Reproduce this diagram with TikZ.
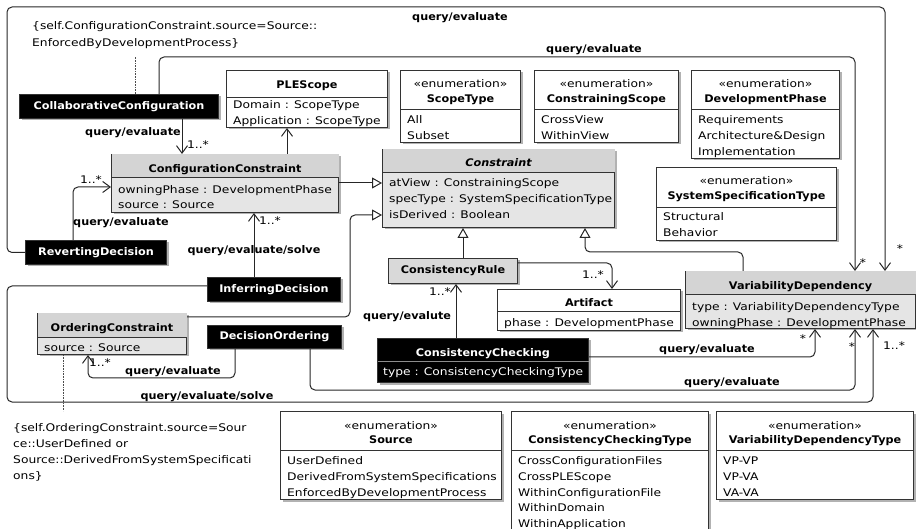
\documentclass[tikz,border=0pt]{standalone}
\usepackage{fontspec}
\setmainfont{DejaVu Sans}[FakeStretch=1.17]
\newfontfamily\headfont{DejaVu Sans}[FakeStretch=1.07]
\usetikzlibrary{arrows.meta,positioning,calc,shadows}

\newcommand{\umltext}{\fontsize{10.5}{12}\selectfont}
\newcommand{\umlhead}{\headfont\bfseries\fontsize{10.5}{12}\selectfont}

\begin{document}
\begin{tikzpicture}[x=1pt, y=-1pt,
  umlbox/.style={draw=black!80, line width=1pt, inner sep=0pt, anchor=north west,
    drop shadow={shadow xshift=2pt, shadow yshift=-2pt, fill=black, opacity=0.3}},
  greybox/.style={umlbox, fill=black!10},
  whitebox/.style={umlbox, fill=white},
  blackbox/.style={umlbox, fill=black, text=white, font=\umlhead},
  hdrgrey/.style={fill=black!17},
  sepline/.style={draw=black!80, line width=1pt},
  hdr/.style={anchor=base, inner sep=0pt, font=\umlhead},
  stereo/.style={anchor=base, inner sep=0pt, font=\umltext},
  attr/.style={anchor=base west, inner sep=0pt, font=\umltext},
  lbl/.style={inner sep=0pt, font=\umlhead},
  mult/.style={inner sep=0pt, font=\umltext},
  assoc/.style={draw=black!85, line width=1pt, rounded corners=5pt,
    -{Straight Barb[length=7.5pt,width=11pt]}},
  gen/.style={draw=black!85, line width=1pt, rounded corners=5pt,
    -{Triangle[length=10pt,width=11pt,fill=white]}},
  notelink/.style={draw=black!70, line width=0.6pt, densely dotted},
  note/.style={anchor=base west, inner sep=0pt, font=\umltext}]

\path[use as bounding box] (0,0) rectangle (916,529);
\clip (0,0) rectangle (916,529);

% ---------------- decisions (black)
\node[blackbox, minimum width=199pt, minimum height=24pt] (collab) at (19,94) {CollaborativeConfiguration};
\node[blackbox, minimum width=141pt, minimum height=24pt] (reverting) at (25,240) {RevertingDecision};
\node[blackbox, minimum width=133pt, minimum height=24pt] (inferring) at (207,277) {InferringDecision};
\node[blackbox, minimum width=134pt, minimum height=23pt] (decord) at (207,325) {DecisionOrdering};

\node[blackbox, minimum width=211pt, minimum height=44pt] (conscheck) at (377,338) {};
\draw[draw=black!45, line width=1pt] ($(conscheck.north west)+(0.5,24)$) -- ($(conscheck.north east)+(-0.5,24)$);
\node[hdr, text=white] (conscheck-n) at ($(conscheck.north)+(0,18)$) {ConsistencyChecking};
\node[attr, text=white] (conscheck-1) at ($(conscheck.north west)+(6,38)$) {type : ConsistencyCheckingType};

% ---------------- constraints (grey)
\node[greybox, minimum width=227pt, minimum height=58pt] (confcons) at (111,154) {};
\fill[hdrgrey] ($(confcons.north west)+(0.5,0.5)$) rectangle ($(confcons.north east)+(-0.5,24)$);
\draw[sepline] ($(confcons.north west)+(0,24)$) -- ($(confcons.north east)+(0,24)$);
\node[hdr] (confcons-n) at ($(confcons.north)+(0,18.5)$) {ConfigurationConstraint};
\node[attr] (confcons-1) at ($(confcons.north west)+(7,39.5)$) {owningPhase : DevelopmentPhase};
\node[attr] (confcons-2) at ($(confcons.north west)+(7,55)$) {source : Source};

\node[greybox, minimum width=232pt, minimum height=78pt] (constraint) at (382,149) {};
\fill[hdrgrey] ($(constraint.north west)+(0.5,0.5)$) rectangle ($(constraint.north east)+(-0.5,24)$);
\draw[sepline] ($(constraint.north west)+(0,24)$) -- ($(constraint.north east)+(0,24)$);
\node[hdr, font=\umlhead\itshape] (constraint-n) at ($(constraint.north)+(0,18)$) {Constraint};
\node[attr] (constraint-1) at ($(constraint.north west)+(7,38)$) {atView : ConstrainingScope};
\node[attr] (constraint-2) at ($(constraint.north west)+(7,53.7)$) {specType : SystemSpecificationType};
\node[attr] (constraint-3) at ($(constraint.north west)+(7,69.4)$) {isDerived : Boolean};

\node[greybox, minimum width=149pt, minimum height=41pt] (ordcons) at (37,313) {};
\fill[hdrgrey] ($(ordcons.north west)+(0.5,0.5)$) rectangle ($(ordcons.north east)+(-0.5,25)$);
\draw[sepline] ($(ordcons.north west)+(0,25)$) -- ($(ordcons.north east)+(0,25)$);
\node[hdr] (ordcons-n) at ($(ordcons.north)+(0,18.5)$) {OrderingConstraint};
\node[attr] (ordcons-1) at ($(ordcons.north west)+(7,38.5)$) {source : Source};

\node[greybox, fill=black!15, minimum width=129pt, minimum height=25pt, font=\umlhead] (consrule) at (388,258) {ConsistencyRule};

\node[greybox, minimum width=230pt, minimum height=57pt] (vardep) at (685,271) {};
\fill[hdrgrey] ($(vardep.north west)+(0.5,0.5)$) rectangle ($(vardep.north east)+(-0.5,24)$);
\draw[sepline] ($(vardep.north west)+(0,24)$) -- ($(vardep.north east)+(0,24)$);
\node[hdr] (vardep-n) at ($(vardep.north)+(0,19)$) {VariabilityDependency};
\node[attr] (vardep-1) at ($(vardep.north west)+(7,40)$) {type : VariabilityDependencyType};
\node[attr] (vardep-2) at ($(vardep.north west)+(7,55.5)$) {owningPhase : DevelopmentPhase};

% ---------------- plain classes
\node[whitebox, minimum width=161pt, minimum height=57pt] (plescope) at (226,70) {};
\draw[sepline] ($(plescope.north west)+(0,28)$) -- ($(plescope.north east)+(0,28)$);
\node[hdr] (plescope-n) at ($(plescope.north)+(0,19)$) {PLEScope};
\node[attr] (plescope-1) at ($(plescope.north west)+(7,39)$) {Domain : ScopeType};
\node[attr] (plescope-2) at ($(plescope.north west)+(7,54.5)$) {Application : ScopeType};

\node[whitebox, minimum width=183pt, minimum height=41pt] (artifact) at (497,289) {};
\draw[sepline] ($(artifact.north west)+(0,23)$) -- ($(artifact.north east)+(0,23)$);
\node[hdr] (artifact-n) at ($(artifact.north)+(0,18)$) {Artifact};
\node[attr] (artifact-1) at ($(artifact.north west)+(7,38)$) {phase : DevelopmentPhase};

% ---------------- enumerations
\node[whitebox, minimum width=120pt, minimum height=72pt] (scopetype) at (400,70) {};
\draw[sepline] ($(scopetype.north west)+(0,40)$) -- ($(scopetype.north east)+(0,40)$);
\node[stereo] (scopetype-s) at ($(scopetype.north)+(0,18)$) {«enumeration»};
\node[hdr] (scopetype-n) at ($(scopetype.north)+(0,33)$) {ScopeType};
\foreach \lit [count=\i from 0] in {All, Subset}
  \node[attr] (scopetype-\i) at ($(scopetype.north west)+(7,{53.5+15.8*\i})$) {\lit};

\node[whitebox, minimum width=144pt, minimum height=72pt] (conscope) at (534,70) {};
\draw[sepline] ($(conscope.north west)+(0,40)$) -- ($(conscope.north east)+(0,40)$);
\node[stereo] (conscope-s) at ($(conscope.north)+(0,18)$) {«enumeration»};
\node[hdr] (conscope-n) at ($(conscope.north)+(0,33)$) {ConstrainingScope};
\foreach \lit [count=\i from 0] in {CrossView, WithinView}
  \node[attr] (conscope-\i) at ($(conscope.north west)+(7,{53.5+15.8*\i})$) {\lit};

\node[whitebox, minimum width=148pt, minimum height=88pt] (devphase) at (691,70) {};
\draw[sepline] ($(devphase.north west)+(0,40)$) -- ($(devphase.north east)+(0,40)$);
\node[stereo] (devphase-s) at ($(devphase.north)+(0,18)$) {«enumeration»};
\node[hdr] (devphase-n) at ($(devphase.north)+(0,33)$) {DevelopmentPhase};
\foreach \lit [count=\i from 0] in {Requirements, Architecture\&Design, Implementation}
  \node[attr] (devphase-\i) at ($(devphase.north west)+(7,{53.5+15.8*\i})$) {\lit};

\node[whitebox, minimum width=180pt, minimum height=73pt] (sysspec) at (656,167) {};
\draw[sepline] ($(sysspec.north west)+(0,41)$) -- ($(sysspec.north east)+(0,41)$);
\node[stereo] (sysspec-s) at ($(sysspec.north)+(0,18)$) {«enumeration»};
\node[hdr] (sysspec-n) at ($(sysspec.north)+(0,33)$) {SystemSpecificationType};
\foreach \lit [count=\i from 0] in {Structural, Behavior}
  \node[attr] (sysspec-\i) at ($(sysspec.north west)+(7,{54+15.8*\i})$) {\lit};

\node[whitebox, minimum width=221pt, minimum height=88pt] (source) at (280,411) {};
\draw[sepline] ($(source.north west)+(0,39)$) -- ($(source.north east)+(0,39)$);
\node[stereo] (source-s) at ($(source.north)+(0,18)$) {«enumeration»};
\node[hdr] (source-n) at ($(source.north)+(0,32.5)$) {Source};
\foreach \lit [count=\i from 0] in {UserDefined, DerivedFromSystemSpecifications, EnforcedByDevelopmentProcess}
  \node[attr] (source-\i) at ($(source.north west)+(7,{53.5+15.8*\i})$) {\lit};

\node[whitebox, minimum width=197pt, minimum height=135pt] (cctype) at (511,411) {};
\draw[sepline] ($(cctype.north west)+(0,39)$) -- ($(cctype.north east)+(0,39)$);
\node[stereo] (cctype-s) at ($(cctype.north)+(0,18)$) {«enumeration»};
\node[hdr] (cctype-n) at ($(cctype.north)+(0,32.5)$) {ConsistencyCheckingType};
\foreach \lit [count=\i from 0] in {CrossConfigurationFiles, CrossPLEScope, WithinConfigurationFile, WithinDomain, WithinApplication}
  \node[attr] (cctype-\i) at ($(cctype.north west)+(7,{53.5+15.8*\i})$) {\lit};

\node[whitebox, minimum width=197pt, minimum height=88pt] (vdtype) at (716,411) {};
\draw[sepline] ($(vdtype.north west)+(0,39)$) -- ($(vdtype.north east)+(0,39)$);
\node[stereo] (vdtype-s) at ($(vdtype.north)+(0,18)$) {«enumeration»};
\node[hdr] (vdtype-n) at ($(vdtype.north)+(0,32.5)$) {VariabilityDependencyType};
\foreach \lit [count=\i from 0] in {VP-VP, VP-VA, VA-VA}
  \node[attr] (vdtype-\i) at ($(vdtype.north west)+(7,{53.5+15.8*\i})$) {\lit};

% ---------------- notes
\node[note] (cfgnote1) at (32,29.5) {\{self.ConfigurationConstraint.source=Source::};
\node[note] (cfgnote2) at (32,46.5) {EnforcedByDevelopmentProcess\}};
\node[note] (ordnote1) at (13,431) {\{self.OrderingConstraint.source=Sour};
\node[note] (ordnote2) at (13,447) {ce::UserDefined or};
\node[note] (ordnote3) at (13,463) {Source::DerivedFromSystemSpecificati};
\node[note] (ordnote4) at (13,479) {ons\}};
\draw[notelink] (135,0 |- collab.north) -- (135,57);
\draw[notelink] (63,0 |- ordcons.south) -- (63,411);

% ---------------- generalizations
\draw[gen] (confcons.east |- 0,183) -- (constraint.west |- 0,183);
\draw[gen] (ordcons.east |- 0,317) -| (350,215) -- (constraint.west |- 0,215);
\draw[gen] (463,0 |- consrule.north) -- (463,0 |- constraint.south);
\draw[gen] (743,0 |- vardep.north) |- (585,252) -- (585,0 |- constraint.south);

% ---------------- associations
\draw[assoc] (182,0 |- collab.south) -- (182,0 |- confcons.north);
\draw[assoc] (287,0 |- confcons.north) -- (287,0 |- plescope.south);
\draw[assoc] (73,0 |- reverting.north) |- (confcons.west |- 0,187);
\draw[assoc] (reverting.west) -| (7,7) -| (885,0 |- vardep.north);
\draw[assoc] (159,0 |- collab.north) |- (855,57) -- (855,0 |- vardep.north);
\draw[assoc] (254,0 |- inferring.north) -- (254,0 |- confcons.south);
\draw[assoc] (inferring.west |- 0,286) -| (7,402) -| (873,0 |- vardep.south);
\draw[assoc] (235,0 |- decord.south) |- (88,378) -- (88,0 |- ordcons.south);
\draw[assoc] (310,0 |- decord.south) |- (855,390) -- (855,0 |- vardep.south);
\draw[assoc] (456,0 |- conscheck.north) -- (456,0 |- consrule.south);
\draw[assoc] (conscheck.east |- 0,357) -| (815,0 |- vardep.south);
\draw[assoc] (consrule.east |- 0,263) -| (612,0 |- artifact.north);

% ---------------- association labels
\node[lbl] (l-top) at (460,18) {query/evaluate};
\node[lbl] (l-collab) at (594,50) {query/evaluate};
\node[lbl] (l-collab2) at (133,133) {query/evaluate};
\node[lbl] (l-revert) at (121,223) {query/evaluate};
\node[lbl] (l-infer) at (254,251) {query/evaluate/solve};
\node[lbl] (l-infer2) at (207,397) {query/evaluate/solve};
\node[lbl] (l-order) at (173,372) {query/evaluate};
\node[lbl] (l-order2) at (732,383) {query/evaluate};
\node[lbl] (l-check) at (407,317) {query/evalute};
\node[lbl] (l-check2) at (707,350) {query/evaluate};

\node[mult] (m1) at (198,145) {1..*};
\node[mult] (m2) at (91,180) {1..*};
\node[mult] (m3) at (270,221) {1..*};
\node[mult] (m4) at (440,292) {1..*};
\node[mult] (m5) at (593,275) {1..*};
\node[mult] (m6) at (100,363) {1..*};
\node[mult] (m7) at (894,346) {1..*};
\node[mult] (m8) at (900,249) {*};
\node[mult] (m9) at (863,263) {*};
\node[mult] (m10) at (803,339) {*};
\node[mult] (m11) at (852,347) {*};
\end{tikzpicture}
\end{document}
